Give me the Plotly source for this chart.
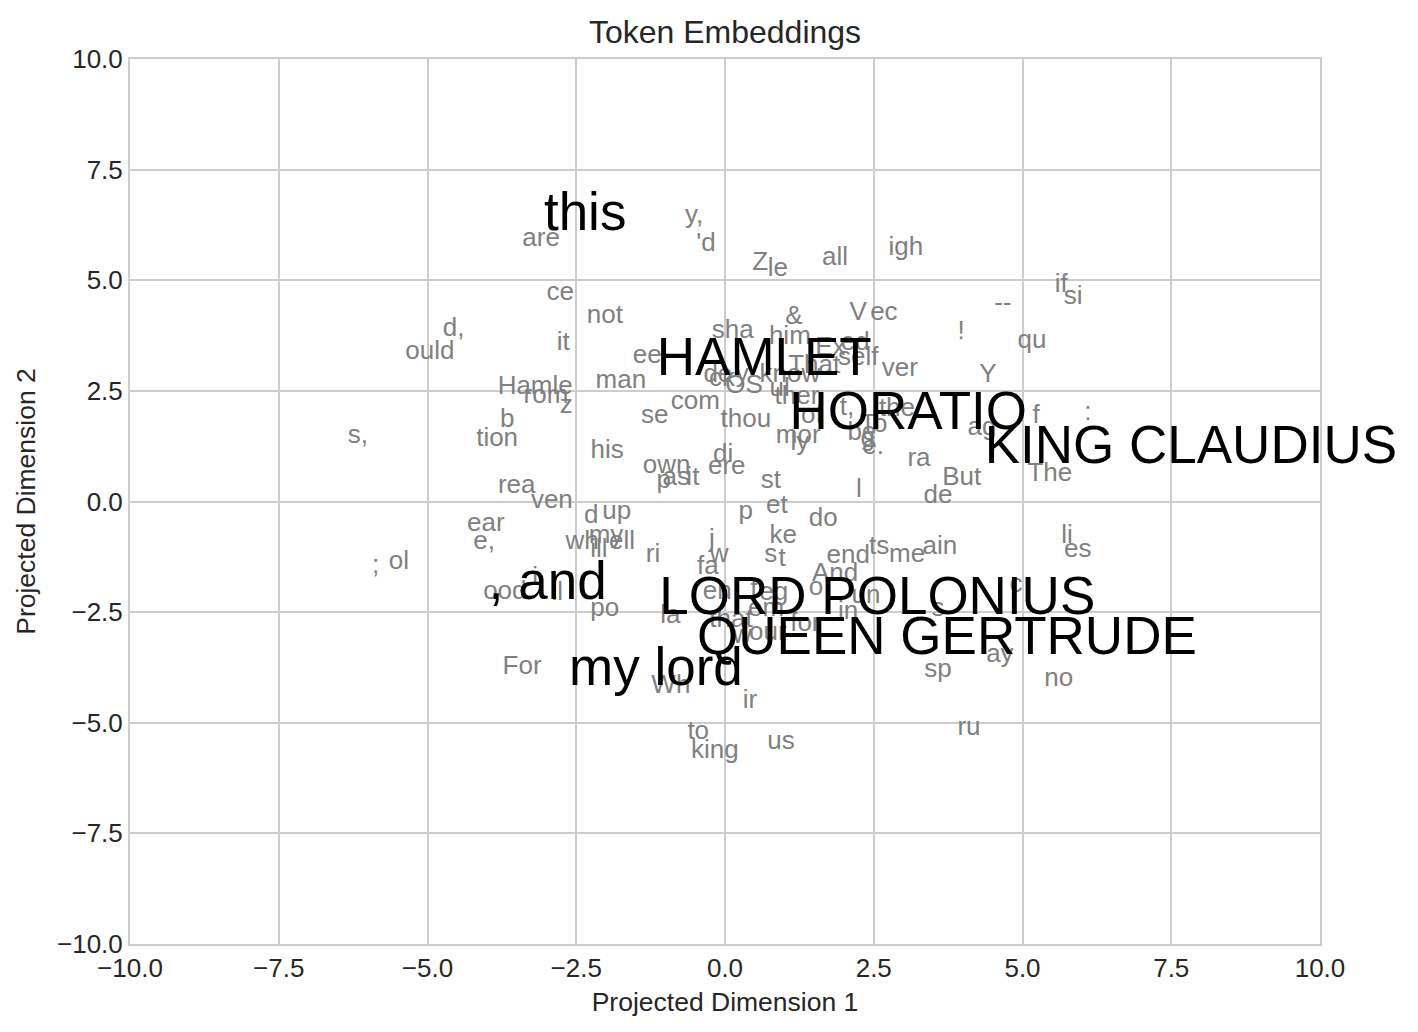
import plotly.graph_objects as go

# Small (gray) token labels: word, x, y
small_words = ["y,", "'d", "are", "Z", "le", "all", "igh", "ce", "not", "if", "si", "--", "V", "ec", "&",
               "d,", "!", "qu", "it", "ould", "sha", "him", "Ex", "ed", "self", "That", "ver", "eel", "man",
               "Y", "Hamle", "rom", "z", "de", "ck", "y", "know", "OS", "ul", "ther", "com", "se", "thou",
               "b", "of", "t,", "the", "To", "be", "g", "e.", "ag", "f", ":", "mor", "ly", "s,", "tion",
               "his", "di", "own", "ere", "ra", "p", "as", "it", "st", "But", "The", "rea", "ven", "l",
               "de", "d", "up", "p", "et", "do", "ear", "e,", "my", "wh", "ell", "ill", "ke", "li", "es",
               "ri", "j", "w", "s", "t", "end", "ts", "me", "ain", ";", "ol", "fa", "And", "o", "en",
               "eg", "t", "un", "s", "c", "ood", "i", "ll", "po", "la", "em", "that", "for", "in", "our",
               "w", "ay", "sp", "For", "Wh", "no", "ir", "ru", "to", "us", "king"]
small_x = [-0.52, -0.32, -3.09, 0.59, 0.89, 1.85, 3.04, -2.77, -2.02, 5.65, 5.85, 4.67, 2.24, 2.67, 1.16,
           -4.56, 3.97, 5.16, -2.72, -4.96, 0.13, 1.09, 1.77, 2.19, 2.24, 1.50, 2.94, -1.26, -1.75,
           4.42, -3.19, -3.01, -2.67, -0.12, -0.05, 0.29, 1.09, 0.32, 0.92, 1.21, -0.50, -1.18, 0.35,
           -3.66, 1.46, 2.05, 2.89, 2.50, 2.30, 2.40, 2.49, 4.32, 5.23, 6.10, 1.23, 1.26, -6.17, -3.83,
           -1.98, -0.03, -0.98, 0.03, 3.26, -1.03, -0.82, -0.54, 0.77, 3.98, 5.46, -3.50, -2.91, 2.25,
           3.58, -2.25, -1.82, 0.35, 0.87, 1.65, -4.02, -4.05, -2.00, -2.40, -1.73, -2.12, 0.98, 5.75, 5.93,
           -1.21, -0.22, -0.10, 0.77, 0.96, 2.07, 2.59, 3.06, 3.61, -5.87, -5.48, -0.29, 1.85, 1.53, -0.13,
           0.82, 0.49, 2.37, 3.58, 4.89, -3.70, -3.19, -2.82, -2.02, -0.92, 0.69, 0.10, 1.35, 2.07, 0.72,
           0.29, 4.62, 3.58, -3.41, -0.91, 5.61, 0.42, 4.10, -0.45, 0.94, -0.17]
small_y = [6.45, 5.80, 5.93, 5.37, 5.25, 5.50, 5.71, 4.69, 4.19, 4.89, 4.60, 4.46, 4.26, 4.24, 4.15,
           3.88, 3.81, 3.61, 3.58, 3.36, 3.85, 3.70, 3.45, 3.56, 3.24, 3.06, 2.99, 3.27, 2.72,
           2.84, 2.57, 2.38, 2.14, 2.84, 2.75, 2.84, 2.84, 2.61, 2.52, 2.36, 2.23, 1.93, 1.82,
           1.82, 1.93, 2.11, 2.09, 1.71, 1.53, 1.39, 1.23, 1.66, 1.93, 1.98, 1.48, 1.32, 1.46, 1.41,
           1.14, 1.05, 0.80, 0.76, 0.94, 0.46, 0.51, 0.51, 0.46, 0.53, 0.60, 0.35, 0.01, 0.26,
           0.12, -0.33, -0.24, -0.24, -0.12, -0.40, -0.51, -0.92, -0.78, -0.92, -0.92, -1.10, -0.78, -0.78, -1.10,
           -1.21, -0.87, -1.23, -1.23, -1.30, -1.25, -1.03, -1.23, -1.05, -1.46, -1.37, -1.50, -1.66, -1.96, -2.05,
           -2.07, -2.00, -2.14, -2.43, -1.89, -2.05, -1.73, -2.09, -2.43, -2.61, -2.45, -2.70, -2.79, -2.50, -2.99,
           -3.04, -3.49, -3.81, -3.74, -4.17, -4.03, -4.53, -5.14, -5.21, -5.44, -5.64]

# Large (black) highlighted labels
big_words = ["this", "HAMLET", "HORATIO", "KING CLAUDIUS", ", and", "LORD POLONIUS", "QUEEN GERTRUDE", "my lord"]
big_x = [-2.35, 0.66, 3.08, 7.83, -2.98, 2.56, 3.73, -1.16]
big_y = [6.43, 3.15, 1.93, 1.18, -1.91, -2.25, -3.15, -3.85]

x_ticks = [-10.0, -7.5, -5.0, -2.5, 0.0, 2.5, 5.0, 7.5, 10.0]
y_ticks = [-10.0, -7.5, -5.0, -2.5, 0.0, 2.5, 5.0, 7.5, 10.0]

FONT = "Liberation Sans, Arial, Helvetica, sans-serif"
TXT = "#262626"
GRID = "#cccccc"

fig = go.Figure()
fig.add_trace(go.Scatter(
    x=small_x, y=small_y, text=small_words, mode="text",
    textposition="middle center",
    textfont=dict(family=FONT, size=26, color="rgb(128,128,128)"),
    hoverinfo="skip", cliponaxis=False, showlegend=False))
fig.add_trace(go.Scatter(
    x=big_x, y=big_y, text=big_words, mode="text",
    textposition="middle center",
    textfont=dict(family=FONT, size=53, color="black"),
    hoverinfo="skip", cliponaxis=False, showlegend=False))

axis_common = dict(
    showgrid=True, gridcolor=GRID, gridwidth=2,
    zeroline=True, zerolinecolor=GRID, zerolinewidth=2,
    showline=True, linecolor=GRID, linewidth=2, mirror=True,
    ticks="", tickformat=".1f",
    tickfont=dict(family=FONT, size=26, color=TXT),
)
fig.update_xaxes(range=[-10, 10], tickvals=x_ticks, title=dict(text="Projected Dimension 1",
                 font=dict(family=FONT, size=26.5, color=TXT), standoff=10), **axis_common)
fig.update_yaxes(range=[-10, 10], tickvals=y_ticks, title=dict(text="Projected Dimension 2",
                 font=dict(family=FONT, size=26.5, color=TXT), standoff=14), **axis_common)

W, H = 1410, 1024
fig.update_layout(
    width=W, height=H,
    margin=dict(l=122, r=98, t=51, b=88, autoexpand=False),
    paper_bgcolor="white", plot_bgcolor="white",
    title=dict(text="Token Embeddings", x=(725 - 8) / W, xanchor="center", y=1 - 24 / H, yanchor="middle",
               font=dict(family=FONT, size=32, color=TXT)),
    font=dict(family=FONT, color=TXT),
)

fig.write_html("out.html")
